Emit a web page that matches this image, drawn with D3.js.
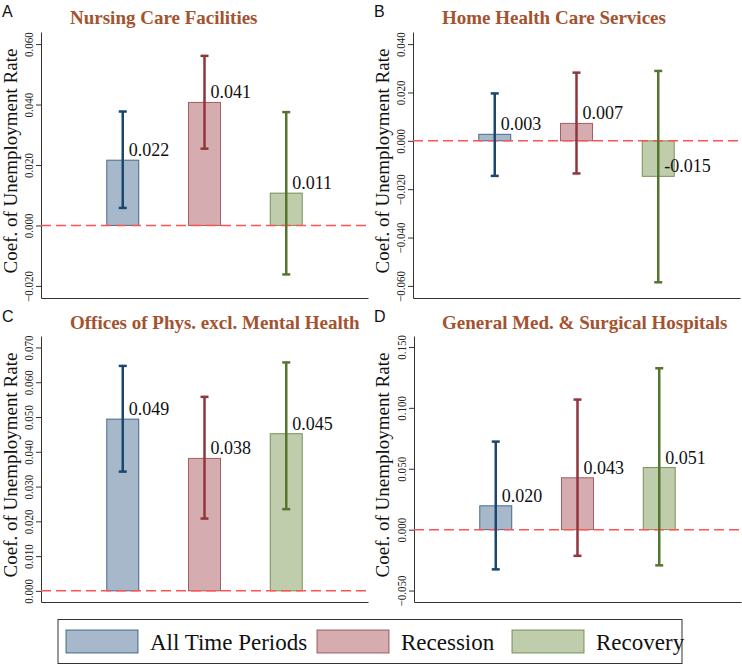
<!DOCTYPE html>
<html>
<head>
<meta charset="utf-8">
<script src="https://cdn.jsdelivr.net/npm/d3@7"></script>
<style>
  body { margin: 0; background: #fff; }
  svg { display: block; }
</style>
</head>
<body>
<svg id="chart" width="742" height="666"></svg>
<script>
// ---- data ----
var panelTitles = ["Nursing Care Facilities", "Home Health Care Services",
                   "Offices of Phys. excl. Mental Health", "General Med. & Surgical Hospitals"];
var panelLetters = ["A", "B", "C", "D"];
var seriesNames = ["All Time Periods", "Recession", "Recovery"];

// one value per panel (A, B, C, D)
var allTimeCoef = [0.0216, 0.0027, 0.0494, 0.0196];
var allTimeLow  = [0.0058, -0.0145, 0.0343, -0.0326];
var allTimeHigh = [0.0377, 0.0196, 0.0647, 0.0723];

var recessionCoef = [0.0407, 0.0072, 0.0381, 0.0426];
var recessionLow  = [0.0254, -0.0135, 0.0208, -0.0215];
var recessionHigh = [0.0561, 0.0282, 0.0558, 0.1068];

var recoveryCoef = [0.0107, -0.0147, 0.0452, 0.0510];
var recoveryLow  = [-0.0162, -0.0585, 0.0235, -0.0293];
var recoveryHigh = [0.0375, 0.0289, 0.0657, 0.1325];

var yDomains = [[-0.024, 0.064], [-0.065, 0.045], [-0.0032, 0.0733], [-0.0594, 0.159]];
var yTicks = [
  [-0.02, 0, 0.02, 0.04, 0.06],
  [-0.06, -0.04, -0.02, 0, 0.02, 0.04],
  [0, 0.01, 0.02, 0.03, 0.04, 0.05, 0.06, 0.07],
  [-0.05, 0, 0.05, 0.10, 0.15]
];

// ---- style ----
var lineColors = ["#1a476f", "#90353b", "#55752f"];
var fillColors = ["#a7b8ca", "#d5adb1", "#bfcdad"];
var serif = "'Liberation Serif', 'Times New Roman', serif";

var svg = d3.select("#chart");

var plotW = 327, plotH = 266;
var panelPos = [[41, 32], [413, 32], [41, 336], [414, 336]];

function seriesFor(p) {
  return [
    {name: seriesNames[0], coef: allTimeCoef[p], lo: allTimeLow[p], hi: allTimeHigh[p], i: 0},
    {name: seriesNames[1], coef: recessionCoef[p], lo: recessionLow[p], hi: recessionHigh[p], i: 1},
    {name: seriesNames[2], coef: recoveryCoef[p], lo: recoveryLow[p], hi: recoveryHigh[p], i: 2}
  ];
}

panelTitles.forEach(function(title, p) {
  var ox = panelPos[p][0], oy = panelPos[p][1];
  var px = (p % 2) * 372, py = Math.floor(p / 2) * 305;
  var data = seriesFor(p);

  var x = d3.scalePoint().domain(seriesNames).range([0, plotW]).padding(1);
  var y = d3.scaleLinear().domain(yDomains[p]).range([plotH, 0]);

  // panel letter + title
  svg.append("text")
    .attr("x", px + 2).attr("y", py + 17)
    .attr("font-family", "'Liberation Sans', Arial, sans-serif")
    .attr("font-size", 16).attr("fill", "#111")
    .text(panelLetters[p]);

  svg.append("text")
    .attr("x", px + 70).attr("y", py + 24)
    .attr("font-family", serif).attr("font-weight", "bold")
    .attr("font-size", 19).attr("fill", "#a3532f")
    .text(title);

  // y axis title
  svg.append("text")
    .attr("transform", "translate(" + (px + 17) + "," + (oy + plotH / 2 - 4) + ") rotate(-90)")
    .attr("text-anchor", "middle")
    .attr("font-family", serif).attr("font-size", 19).attr("fill", "#111")
    .text("Coef. of Unemployment Rate");

  var g = svg.append("g").attr("transform", "translate(" + ox + "," + oy + ")");

  // y axis
  var yAxis = g.append("g")
    .call(d3.axisLeft(y).tickValues(yTicks[p]).tickFormat(d3.format(".3f")).tickSize(5).tickSizeOuter(0));
  yAxis.select(".domain").attr("stroke", "#333");
  yAxis.selectAll(".tick line").attr("stroke", "#333");
  yAxis.selectAll(".tick text")
    .attr("x", null).attr("dy", null)
    .attr("transform", "translate(-8,0) rotate(-90) scale(0.85,1)")
    .attr("text-anchor", "middle")
    .attr("font-family", serif).attr("font-size", 13).attr("fill", "#222");

  // x axis line (no ticks)
  var xAxis = g.append("g")
    .attr("transform", "translate(0," + plotH + ")")
    .call(d3.axisBottom(x).tickSize(0).tickFormat(""));
  xAxis.select(".domain").attr("stroke", "#333");

  // bars
  var bw = 32;
  g.selectAll("rect.bar")
    .data(data).enter().append("rect")
    .attr("class", "bar")
    .attr("x", function(d) { return x(d.name) - bw / 2; })
    .attr("y", function(d) { return y(Math.max(0, d.coef)); })
    .attr("width", bw)
    .attr("height", function(d) { return Math.abs(y(d.coef) - y(0)); })
    .attr("fill", function(d) { return fillColors[d.i]; })
    .attr("stroke", function(d) { return lineColors[d.i]; })
    .attr("stroke-opacity", 0.75)
    .attr("stroke-width", 1);

  // zero line
  g.append("line")
    .attr("x1", 0).attr("x2", plotW)
    .attr("y1", y(0)).attr("y2", y(0))
    .attr("stroke", "#ff5252").attr("stroke-width", 1.5)
    .attr("stroke-dasharray", "10,5");

  // error bars
  var eb = g.selectAll("g.err").data(data).enter().append("g")
    .attr("stroke", function(d) { return lineColors[d.i]; })
    .attr("stroke-width", 2.5);
  eb.append("line")
    .attr("x1", function(d) { return x(d.name); }).attr("x2", function(d) { return x(d.name); })
    .attr("y1", function(d) { return y(d.lo); }).attr("y2", function(d) { return y(d.hi); });
  eb.append("line")
    .attr("x1", function(d) { return x(d.name) - 4; }).attr("x2", function(d) { return x(d.name) + 4; })
    .attr("y1", function(d) { return y(d.hi); }).attr("y2", function(d) { return y(d.hi); });
  eb.append("line")
    .attr("x1", function(d) { return x(d.name) - 4; }).attr("x2", function(d) { return x(d.name) + 4; })
    .attr("y1", function(d) { return y(d.lo); }).attr("y2", function(d) { return y(d.lo); });

  // value labels
  g.selectAll("text.val").data(data).enter().append("text")
    .attr("class", "val")
    .attr("x", function(d) { return x(d.name) + 6; })
    .attr("y", function(d) { return y(d.coef) - 4; })
    .attr("font-family", serif).attr("font-size", 18).attr("fill", "#111")
    .text(function(d) { return d.coef.toFixed(3); });
});

// legend
var legend = svg.append("g");
legend.append("rect")
  .attr("x", 58).attr("y", 619.5).attr("width", 624).attr("height", 44)
  .attr("fill", "#fff").attr("stroke", "#333").attr("stroke-width", 1);
var legendX = [66, 317, 512];
seriesNames.forEach(function(name, i) {
  legend.append("rect")
    .attr("x", legendX[i]).attr("y", 630).attr("width", 72).attr("height", 23)
    .attr("fill", fillColors[i]).attr("stroke", lineColors[i]).attr("stroke-opacity", 0.75);
  legend.append("text")
    .attr("x", legendX[i] + 84).attr("y", 650)
    .attr("font-family", serif).attr("font-size", 23).attr("fill", "#111")
    .text(name);
});
</script>
</body>
</html>
